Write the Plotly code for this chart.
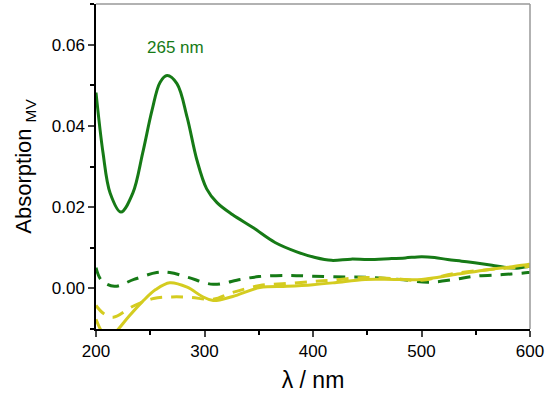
import plotly.graph_objects as go

# Green solid
wl_gs = [200, 206.5, 213, 223, 234, 243, 251.6, 259, 265.5, 274.6, 284, 293, 302, 311.5, 326, 345, 365, 385, 402, 417, 435, 451, 470, 485, 500, 512, 524, 537, 549, 565, 580, 590, 598, 600]
ab_gs = [0.0482, 0.0333, 0.0235, 0.0188, 0.0235, 0.0333, 0.0438, 0.0507, 0.0524, 0.0504, 0.0421, 0.0316, 0.0245, 0.0211, 0.0181, 0.0149, 0.0113, 0.0090, 0.0076, 0.0069, 0.0072, 0.0071, 0.0073, 0.0075, 0.0078, 0.0076, 0.0071, 0.0067, 0.0063, 0.0057, 0.0051, 0.0050, 0.0054, 0.0055]

# Green dashed
wl_gd = [200, 205, 217, 235, 256, 268, 285, 308, 333, 350, 376, 400, 430, 451, 480, 506, 530, 549, 575, 598, 600]
ab_gd = [0.0051, 0.0020, 0.0005, 0.0022, 0.0039, 0.0039, 0.0027, 0.0010, 0.0022, 0.0029, 0.0032, 0.0030, 0.0028, 0.0027, 0.0022, 0.0015, 0.0022, 0.0030, 0.0034, 0.0039, 0.0040]

# Yellow solid
wl_ys = [200, 205, 211, 219, 230, 243, 255, 268, 284, 298, 308, 326, 351, 376, 400, 420, 448, 475, 500, 531, 561, 580, 598, 600]
ab_ys = [-0.0076, -0.0105, -0.0125, -0.0105, -0.0070, -0.0032, -0.0003, 0.0014, 0.0003, -0.0020, -0.0030, -0.0020, 0.0002, 0.0005, 0.0009, 0.0014, 0.0022, 0.0022, 0.0022, 0.0034, 0.0046, 0.0052, 0.0059, 0.0059]

# Yellow dashed
wl_yd = [200, 207, 216, 234, 253, 270, 287, 308, 326, 351, 376, 400, 420, 448, 475, 500, 531, 561, 580, 598, 600]
ab_yd = [-0.0042, -0.0062, -0.0071, -0.0044, -0.0025, -0.0021, -0.0022, -0.0027, -0.0010, 0.0007, 0.0012, 0.0017, 0.0021, 0.0027, 0.0024, 0.0020, 0.0037, 0.0046, 0.0050, 0.0054, 0.0055]

x_ticks = [200, 300, 400, 500, 600]
y_ticks = [0.00, 0.02, 0.04, 0.06]
y_tick_labels = ["0.00", "0.02", "0.04", "0.06"]

GREEN = "rgb(22,122,22)"
YELLOW = "rgb(212,204,32)"
DASH = "12px,9px"

fig = go.Figure()
fig.add_trace(go.Scatter(x=wl_gs, y=ab_gs, mode="lines", line=dict(color=GREEN, width=3, shape="spline")))
fig.add_trace(go.Scatter(x=wl_gd, y=ab_gd, mode="lines", line=dict(color=GREEN, width=3, dash=DASH, shape="spline")))
fig.add_trace(go.Scatter(x=wl_ys, y=ab_ys, mode="lines", line=dict(color=YELLOW, width=3, shape="spline")))
fig.add_trace(go.Scatter(x=wl_yd, y=ab_yd, mode="lines", line=dict(color=YELLOW, width=3, dash=DASH, shape="spline")))

fig.add_annotation(x=273, y=0.0594, text="265 nm", showarrow=False,
                   font=dict(color=GREEN, size=17, family="Liberation Sans, Arial"))

# gray frame top/right
fig.add_shape(type="line", xref="paper", yref="paper", x0=0, x1=1, y0=1, y1=1, line=dict(color="#999999", width=1.5))
fig.add_shape(type="line", xref="paper", yref="paper", x0=1, x1=1, y0=0, y1=1, line=dict(color="#999999", width=1.5))

fig.update_layout(
    width=550, height=399,
    margin=dict(l=96, r=20, t=4, b=70),
    plot_bgcolor="white", paper_bgcolor="white",
    showlegend=False,
    font=dict(family="Liberation Sans, Arial", color="black"),
    xaxis=dict(range=[200, 600], tickvals=x_ticks, ticks="outside", ticklen=6, tickwidth=1.5,
               showline=True, linecolor="black", linewidth=1.5, showgrid=False, zeroline=False,
               tickfont=dict(size=17),
               minor=dict(dtick=50, ticks="outside", ticklen=4, tickwidth=1.5, tickcolor="black"),
               title=dict(text="λ / nm", font=dict(size=23), standoff=12)),
    yaxis=dict(range=[-0.01, 0.07], tickvals=y_ticks, ticktext=y_tick_labels, ticks="outside", ticklen=6, tickwidth=1.5,
               showline=True, linecolor="black", linewidth=1.5, showgrid=False, zeroline=False,
               tickfont=dict(size=17),
               minor=dict(dtick=0.01, ticks="outside", ticklen=4, tickwidth=1.5, tickcolor="black"),
               title=dict(text="Absorption <sub>MV</sub>", font=dict(size=22), standoff=14)),
)

fig.write_html("out.html", config={"displayModeBar": False},
               post_script="document.body.style.margin='0';document.body.style.padding='0';")
